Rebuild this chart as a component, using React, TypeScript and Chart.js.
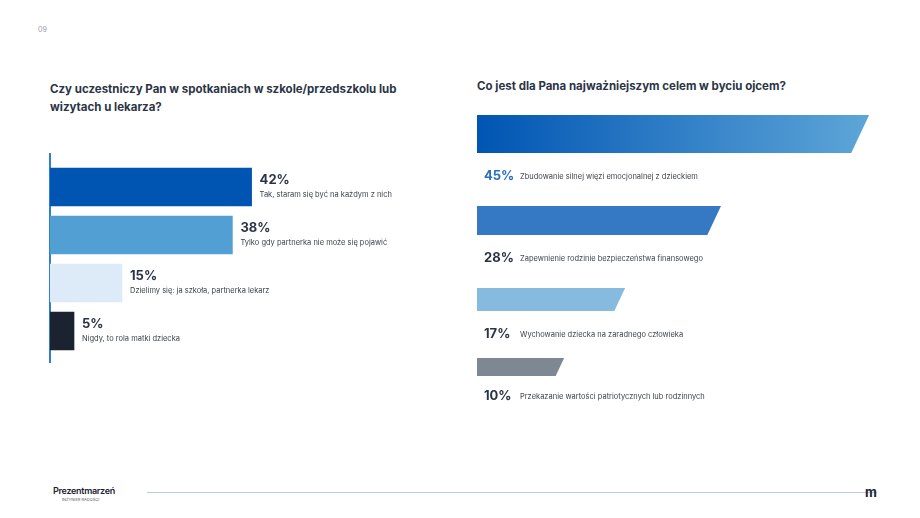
import React, { useEffect, useRef } from 'react';
import Chart from 'chart.js/auto';

const leftCategories = [
  'Tak, staram się być na każdym z nich',
  'Tylko gdy partnerka nie może się pojawić',
  'Dzielimy się: ja szkoła, partnerka lekarz',
  'Nigdy, to rola matki dziecka',
];
const leftValues = [42, 38, 15, 5];
const leftColors = ['#0055b3', '#529fd3', '#ddebf8', '#1b2330'];

const rightCategories = [
  'Zbudowanie silnej więzi emocjonalnej z dzieckiem',
  'Zapewnienie rodzinie bezpieczeństwa finansowego',
  'Wychowanie dziecka na zaradnego człowieka',
  'Przekazanie wartości patriotycznych lub rodzinnych',
];
const rightValues = [45, 28, 17, 10];
const rightColors = ['grad', '#3578c4', '#86badf', '#7d8894'];
const rightHeights = [38, 29, 23, 18];

const FONT = 'Inter, "Noto Sans", sans-serif';

const LeftChart: React.FC = () => {
  const ref = useRef<HTMLCanvasElement>(null);
  useEffect(() => {
    if (!ref.current) return;
    const labelsPlugin = {
      id: 'leftLabels',
      afterDatasetsDraw(chart: any) {
        const ctx = chart.ctx;
        const meta = chart.getDatasetMeta(0);
        meta.data.forEach((bar: any, i: number) => {
          const x = bar.x + 8;
          const top = bar.y - 19;
          ctx.save();
          ctx.fillStyle = '#2b3446';
          ctx.font = `bold 13px ${FONT}`;
          ctx.textBaseline = 'top';
          ctx.fillText(`${leftValues[i]}%`, x, top + 6);
          ctx.font = `7.5px ${FONT}`;
          ctx.fillStyle = '#3a3f4a';
          ctx.fillText(leftCategories[i], x, top + 23);
          ctx.restore();
        });
      },
    };
    const chart = new Chart(ref.current, {
      type: 'bar',
      data: {
        labels: leftCategories,
        datasets: [{ data: leftValues, backgroundColor: leftColors, barThickness: 38 }],
      },
      options: {
        indexAxis: 'y',
        animation: false,
        responsive: false,
        layout: { padding: 0 },
        scales: {
          x: { display: false, min: 0, max: 100 },
          y: { display: false },
        },
        plugins: { legend: { display: false }, tooltip: { enabled: false } },
      },
      plugins: [labelsPlugin],
    });
    return () => chart.destroy();
  }, []);
  return <canvas ref={ref} width={480} height={192} style={{ position: 'absolute', left: 50, top: 163, width: 480, height: 192 }} />;
};

const RightChart: React.FC = () => {
  const ref = useRef<HTMLCanvasElement>(null);
  useEffect(() => {
    if (!ref.current) return;
    const gaps = [53, 53, 47];
    const shapes = {
      id: 'slanted',
      afterDatasetsDraw(chart: any) {
        const ctx = chart.ctx;
        const xs = chart.scales.x;
        const x0 = xs.getPixelForValue(0);
        let top = chart.chartArea.top;
        rightValues.forEach((v, i) => {
          const h = rightHeights[i];
          const xr = xs.getPixelForValue(v);
          const slant = h * 0.47;
          ctx.save();
          ctx.beginPath();
          ctx.moveTo(x0, top);
          ctx.lineTo(xr, top);
          ctx.lineTo(xr - slant, top + h);
          ctx.lineTo(x0, top + h);
          ctx.closePath();
          if (rightColors[i] === 'grad') {
            const g = ctx.createLinearGradient(x0, 0, xr, 0);
            g.addColorStop(0, '#0055b3');
            g.addColorStop(1, '#5ea6d8');
            ctx.fillStyle = g;
          } else ctx.fillStyle = rightColors[i];
          ctx.fill();
          const ly = top + h + (i === 3 ? 20 : 23);
          ctx.textBaseline = 'middle';
          ctx.font = `bold 13px ${FONT}`;
          ctx.fillStyle = i === 0 ? '#2a6fc0' : '#2b3446';
          ctx.fillText(`${v}%`, x0 + 7, ly);
          ctx.font = `7.5px ${FONT}`;
          ctx.fillStyle = '#3a3f4a';
          ctx.fillText(rightCategories[i], x0 + 43, ly + 1);
          ctx.restore();
          top += h + (gaps[i] || 0);
        });
      },
    };
    const chart = new Chart(ref.current, {
      type: 'bar',
      data: {
        labels: rightCategories,
        datasets: [{ data: rightValues, backgroundColor: 'rgba(0,0,0,0)' }],
      },
      options: {
        indexAxis: 'y',
        animation: false,
        responsive: false,
        layout: { padding: 0 },
        scales: {
          x: { display: false, min: 0, max: 48.2 },
          y: { display: false },
        },
        plugins: { legend: { display: false }, tooltip: { enabled: false } },
      },
      plugins: [shapes],
    });
    return () => chart.destroy();
  }, []);
  return <canvas ref={ref} width={420} height={300} style={{ position: 'absolute', left: 477, top: 115, width: 420, height: 300 }} />;
};

export default function App() {
  const title: React.CSSProperties = {
    position: 'absolute', fontFamily: FONT, fontWeight: 700, fontSize: 11.5, color: '#2b3446', lineHeight: '18px', margin: 0,
  };
  return (
    <div style={{ position: 'fixed', left: 0, top: 0, width: 920, height: 518, background: '#fff', overflow: 'hidden', fontFamily: FONT }}>
      <div style={{ position: 'absolute', left: 38, top: 25, fontSize: 7, color: '#9aa0a8' }}>09</div>
      <p style={{ ...title, left: 50, top: 80, width: 360 }}>
        Czy uczestniczy Pan w spotkaniach w szkole/przedszkolu lub wizytach u lekarza?
      </p>
      <p style={{ ...title, left: 477, top: 77 }}>Co jest dla Pana najważniejszym celem w byciu ojcem?</p>
      <div style={{ position: 'absolute', left: 49, top: 153, width: 1.5, height: 210, background: '#2f7fd0' }} />
      <LeftChart />
      <RightChart />
      <div style={{ position: 'absolute', left: 53, top: 485, fontSize: 9, fontWeight: 600, color: '#1d2330', letterSpacing: -0.3 }}>Prezentmarzeń</div>
      <div style={{ position: 'absolute', left: 62, top: 497, fontSize: 4, color: '#555' }}>INŻYNIER RADOŚCI</div>
      <div style={{ position: 'absolute', left: 147, top: 492, width: 730, height: 1, background: '#b8cde2' }} />
      <div style={{ position: 'absolute', left: 865, top: 484, fontSize: 13, fontWeight: 700, color: '#1d2330' }}>m</div>
    </div>
  );
}
